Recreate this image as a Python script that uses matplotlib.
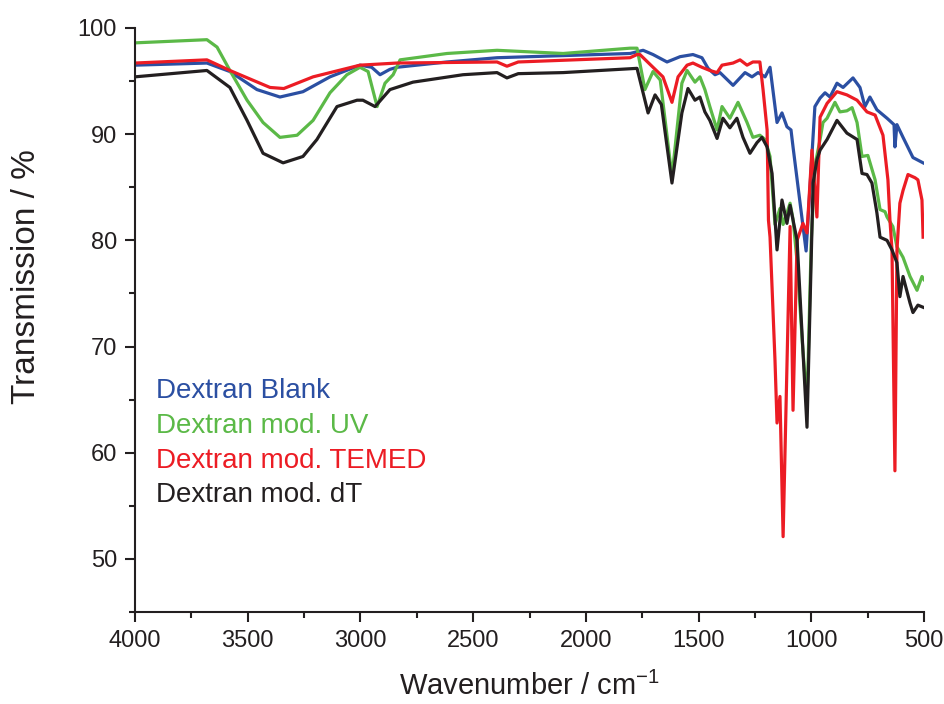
import matplotlib
matplotlib.use("Agg")
import matplotlib.pyplot as plt
from matplotlib.ticker import MultipleLocator

plt.rcParams['font.family'] = ['Liberation Sans', 'DejaVu Sans']
plt.rcParams['mathtext.default'] = 'regular'
plt.rcParams['axes.unicode_minus'] = False

labels = ["Dextran Blank", "Dextran mod. UV", "Dextran mod. TEMED", "Dextran mod. dT"]
colors = ["#2b4fa2", "#5bb947", "#ec1c24", "#231f20"]

blank_wn = [4000, 3681, 3579, 3459, 3357, 3255, 3135, 3002, 2950, 2913, 2870, 2838, 2616, 2394,
            2101, 1804, 1746, 1702, 1640, 1582, 1525, 1485, 1458, 1427, 1405, 1347, 1294, 1263,
            1236, 1205, 1183, 1152, 1130, 1108, 1090, 1081, 1023, 984, 961, 939, 917, 886, 859,
            815, 784, 762, 740, 709, 664, 633, 629, 620, 593, 549, 504]
blank_t = [96.5, 96.7, 95.9, 94.2, 93.5, 94.0, 95.4, 96.5, 96.3, 95.6, 96.1, 96.3, 96.8, 97.2,
           97.4, 97.6, 97.9, 97.5, 96.8, 97.3, 97.5, 97.2, 96.2, 95.6, 95.8, 94.6, 95.8, 95.4,
           95.8, 95.4, 96.3, 91.1, 92.0, 90.7, 90.4, 88.8, 79.0, 92.6, 93.4, 93.9, 93.5, 94.8, 94.4,
           95.3, 94.4, 92.6, 93.5, 92.3, 91.5, 90.9, 88.8, 90.9, 89.7, 87.8, 87.3]

uv_wn = [4000, 3681, 3636, 3579, 3503, 3432, 3357, 3281, 3210, 3135, 3060, 3002, 2966, 2926,
         2891, 2855, 2824, 2616, 2394, 2101, 1804, 1773, 1738, 1702, 1670, 1618, 1574, 1551,
         1516, 1494, 1472, 1450, 1418, 1396, 1361, 1325, 1285, 1259, 1228, 1205, 1183, 1161,
         1139, 1125, 1094, 1081, 1063, 1040, 1019, 1000, 984, 961, 948, 930, 895, 873, 842,
         819, 797, 775, 749, 717, 695, 673, 664, 638, 620, 593, 562, 531, 509, 500]
uv_t = [98.6, 98.9, 98.2, 96.0, 93.2, 91.1, 89.7, 89.9, 91.3, 93.9, 95.6, 96.3, 95.9, 92.6,
        94.8, 95.6, 97.0, 97.6, 97.9, 97.6, 98.1, 98.1, 94.2, 95.9, 95.1, 86.0, 94.8, 96.0,
        94.9, 95.4, 94.2, 92.6, 90.4, 92.6, 91.5, 93.0, 91.1, 89.7, 89.9, 89.5, 87.9, 81.5,
        83.0, 81.5, 83.5, 82.0, 78.0, 70.5, 64.5, 80.0, 87.0, 89.5, 91.1, 91.5, 93.0, 92.1, 92.2,
        92.5, 91.1, 87.9, 88.0, 85.7, 82.9, 82.7, 82.2, 81.3, 79.4, 78.4, 76.6, 75.3, 76.6, 76.3]

temed_wn = [4000, 3681, 3579, 3401, 3340, 3210, 3002, 2838, 2394, 2350, 2300, 1804, 1773, 1760,
            1702, 1658, 1618, 1591, 1551, 1525, 1485, 1450, 1418, 1396, 1347, 1316, 1285, 1259,
            1228, 1214, 1196, 1190, 1183, 1161, 1152, 1139, 1125, 1094, 1081, 1063, 1037, 1019,
            997, 975, 961, 930, 886, 842, 797, 753, 717, 682, 660, 651, 642, 629, 620, 607, 593,
            571, 540, 527, 509, 504]
temed_t = [96.7, 97.0, 96.0, 94.4, 94.3, 95.4, 96.5, 96.7, 96.8, 96.4, 96.8, 97.2, 97.5, 97.5,
           96.3, 95.4, 93.0, 95.4, 96.5, 96.7, 96.3, 96.0, 95.8, 96.5, 96.7, 97.0, 96.5, 96.8,
           96.8, 94.2, 90.4, 81.9, 80.3, 68.7, 62.8, 65.3, 52.1, 81.3, 64.0, 80.0, 81.6, 80.7,
           88.5, 82.2, 91.6, 92.9, 94.0, 93.7, 93.2, 92.1, 91.8, 89.9, 85.7, 81.9, 79.1, 58.3,
           79.1, 83.5, 84.7, 86.2, 85.9, 85.7, 83.8, 80.3]

dt_wn = [4000, 3681, 3579, 3503, 3432, 3343, 3255, 3193, 3104, 3015, 2989, 2935, 2869, 2767,
         2545, 2394, 2350, 2300, 2101, 1773, 1724, 1693, 1665, 1618, 1574, 1547, 1516, 1494,
         1472, 1450, 1418, 1392, 1361, 1330, 1303, 1272, 1241, 1219, 1196, 1174, 1152, 1130,
         1108, 1094, 1063, 1019, 992, 975, 961, 930, 908, 886, 842, 797, 775, 753, 731, 709,
         695, 664, 642, 620, 607, 593, 562, 549, 527, 504]
dt_t = [95.4, 96.0, 94.4, 91.3, 88.2, 87.3, 87.9, 89.5, 92.6, 93.2, 93.2, 92.6, 94.2, 94.9,
        95.6, 95.8, 95.3, 95.7, 95.8, 96.2, 92.0, 93.7, 92.8, 85.4, 92.0, 94.3, 93.2, 93.5,
        92.1, 91.3, 89.6, 91.5, 90.6, 91.5, 89.7, 88.2, 89.2, 89.7, 88.8, 86.3, 79.1, 83.8,
        81.6, 83.3, 80.0, 62.4, 85.4, 87.6, 88.5, 89.5, 90.4, 91.3, 90.1, 89.5, 86.3, 86.2,
        85.4, 82.6, 80.3, 80.0, 79.1, 77.9, 74.7, 76.6, 74.1, 73.2, 73.9, 73.7]

series = [(blank_wn, blank_t), (uv_wn, uv_t), (temed_wn, temed_t), (dt_wn, dt_t)]

fig = plt.figure(figsize=(9.45, 7.04), dpi=100)
ax = fig.add_axes([135 / 945, 92 / 704, 789 / 945, 584 / 704])

for (wn, t), c in zip(series, colors):
    ax.plot(wn, t, color=c, lw=2.3, solid_joinstyle='round')

ax.set_xlim(4000, 500)
ax.set_ylim(45, 100)
ax.xaxis.set_major_locator(MultipleLocator(500))
ax.xaxis.set_minor_locator(MultipleLocator(250))
ax.yaxis.set_major_locator(MultipleLocator(10))
ax.yaxis.set_minor_locator(MultipleLocator(5))

for s in ['top', 'right']:
    ax.spines[s].set_visible(False)
for s in ['left', 'bottom']:
    ax.spines[s].set_linewidth(1.5)
    ax.spines[s].set_color('#231f20')

ax.tick_params(which='major', direction='out', length=7, width=1.5, labelsize=17,
               colors='#231f20', pad=6)
ax.tick_params(which='minor', direction='out', length=4, width=1.5, colors='#231f20')

ax.set_xlabel('Wavenumber / cm$^{-1}$', fontsize=21, labelpad=14, color='#231f20')
ax.set_ylabel('Transmission / %', fontsize=24, color='#231f20')
ax.yaxis.set_label_coords(-0.118, 0.574)

ys = [0.366, 0.3065, 0.2466, 0.188]
for lab, c, y in zip(labels, colors, ys):
    ax.text(0.026, y, lab, color=c, fontsize=20, transform=ax.transAxes, va='baseline', ha='left')

fig.savefig('out.png', dpi=100)
